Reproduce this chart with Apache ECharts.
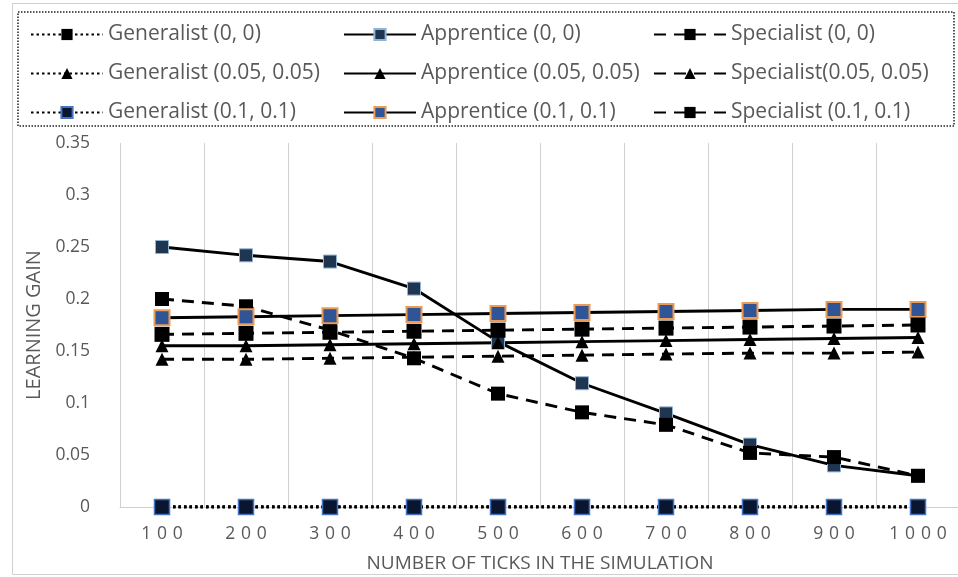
<!DOCTYPE html>
<html>
<head>
<meta charset="utf-8">
<script src="https://cdn.jsdelivr.net/npm/echarts@6/dist/echarts.min.js"></script>
<style>
  html, body { margin: 0; padding: 0; background: #fff; }
  #chart { width: 958px; height: 577px; }
</style>
</head>
<body>
<div id="chart"></div>
<script>
// Simulation length (ticks) on the x axis
const ticks = ['100', '200', '300', '400', '500', '600', '700', '800', '900', '1000'];

// Learning gain per agent type and parameter setting
const generalist_0_0 = [0, 0, 0, 0, 0, 0, 0, 0, 0, 0];
const apprentice_0_0 = [0.25, 0.242, 0.236, 0.21, 0.159, 0.119, 0.09, 0.06, 0.04, 0.03];
const specialist_0_0 = [0.2, 0.193, 0.17, 0.143, 0.109, 0.091, 0.079, 0.052, 0.048, 0.03];

const generalist_05 = [0, 0, 0, 0, 0, 0, 0, 0, 0, 0];
const apprentice_05 = [0.155, 0.155, 0.156, 0.157, 0.158, 0.159, 0.16, 0.161, 0.162, 0.163];
const specialist_05 = [0.142, 0.142, 0.143, 0.144, 0.145, 0.146, 0.147, 0.148, 0.148, 0.149];

const generalist_1 = [0, 0, 0, 0, 0, 0, 0, 0, 0, 0];
const apprentice_1 = [0.182, 0.183, 0.184, 0.185, 0.186, 0.187, 0.188, 0.189, 0.19, 0.19];
const specialist_1 = [0.166, 0.167, 0.168, 0.169, 0.17, 0.171, 0.172, 0.173, 0.174, 0.175];

const yTicks = { min: 0, max: 0.35, step: 0.05 };

const FONT = '"Open Sans", Lato, "Liberation Sans", sans-serif';
const GREY_TEXT = '#595959';
const DOTTED = [2.5, 3];
const DASHED = [12, 8];

function lineSeries(name, data, dash, symbol, size, fill, border, borderWidth) {
  return {
    name: name,
    type: 'line',
    data: data,
    symbol: symbol,
    symbolSize: size,
    showAllSymbol: true,
    lineStyle: { color: '#000', width: 2.9, type: dash },
    itemStyle: { color: fill, borderColor: border, borderWidth: borderWidth, opacity: 1 },
    emphasis: { disabled: true },
    animation: false
  };
}

const series = [
  lineSeries('Generalist (0, 0)', generalist_0_0, DOTTED, 'rect', 14, '#000', '#000', 0),
  lineSeries('Apprentice (0, 0)', apprentice_0_0, 'solid', 'rect', 13, '#1f3550', '#8fb3d3', 1),
  lineSeries('Specialist (0, 0)', specialist_0_0, DASHED, 'rect', 14, '#000', '#000', 0),
  lineSeries('Generalist (0.05, 0.05)', generalist_05, DOTTED, 'triangle', 13, '#000', '#000', 0),
  lineSeries('Apprentice (0.05, 0.05)', apprentice_05, 'solid', 'triangle', 13, '#000', '#000', 0),
  lineSeries('Specialist(0.05, 0.05)', specialist_05, DASHED, 'triangle', 13, '#000', '#000', 0),
  lineSeries('Generalist (0.1, 0.1)', generalist_1, DOTTED, 'rect', 15, '#0a1530', '#4472c4', 1.5),
  lineSeries('Apprentice (0.1, 0.1)', apprentice_1, 'solid', 'rect', 15, '#2f5597', '#ed9a55', 2),
  lineSeries('Specialist (0.1, 0.1)', specialist_1, DASHED, 'rect', 15, '#000', '#000', 0)
];

function legendColumn(left, names) {
  return {
    left: left,
    top: 23,
    padding: 0,
    orient: 'vertical',
    itemWidth: 72,
    itemHeight: 14,
    itemGap: 16,
    selectedMode: false,
    data: names,
    textStyle: { color: GREY_TEXT, fontSize: 21, lineHeight: 23, fontFamily: FONT }
  };
}

const chart = echarts.init(document.getElementById('chart'), null, { renderer: 'canvas' });
chart.setOption({
  backgroundColor: '#fff',
  animation: false,
  legend: [
    legendColumn(30, [series[0].name, series[3].name, series[6].name]),
    legendColumn(343, [series[1].name, series[4].name, series[7].name]),
    legendColumn(653, [series[2].name, series[5].name, series[8].name])
  ],
  graphic: [
    {
      type: 'rect', silent: true, z: -1,
      shape: { x: 12.5, y: 3.5, width: 960, height: 571 },
      style: { fill: 'none', stroke: '#d0d0d0', lineWidth: 1 }
    },
    {
      type: 'rect', silent: true,
      shape: { x: 18, y: 12, width: 936, height: 114 },
      style: { fill: 'none', stroke: '#222', lineWidth: 1.5, lineDash: [1.5, 1.5] }
    }
  ],
  grid: { left: 120, right: -2, top: 143, bottom: 70, containLabel: false, outerBoundsMode: 'none' },
  xAxis: {
    type: 'category',
    data: ticks,
    boundaryGap: true,
    name: 'NUMBER OF TICKS IN THE SIMULATION',
    nameLocation: 'middle',
    nameGap: 47,
    nameTextStyle: { color: GREY_TEXT, fontSize: 19, fontFamily: FONT },
    axisLine: { lineStyle: { color: '#d0d0d0', width: 1 } },
    axisTick: { show: false },
    axisLabel: {
      color: GREY_TEXT, fontSize: 17.5, fontFamily: FONT, margin: 18,
      formatter: v => v.split('').join('\u2004')
    },
    splitLine: { show: true, lineStyle: { color: '#d0d0d0', width: 1 } }
  },
  yAxis: {
    type: 'value',
    min: yTicks.min,
    max: yTicks.max,
    interval: yTicks.step,
    name: 'LEARNING GAIN',
    nameLocation: 'middle',
    nameRotate: 90,
    nameGap: 75,
    nameTextStyle: { color: GREY_TEXT, fontSize: 20, fontFamily: FONT },
    axisLine: { show: false },
    axisTick: { show: false },
    axisLabel: { color: GREY_TEXT, fontSize: 17.5, fontFamily: FONT, margin: 30 },
    splitLine: { show: false }
  },
  series: series
});
</script>
</body>
</html>
